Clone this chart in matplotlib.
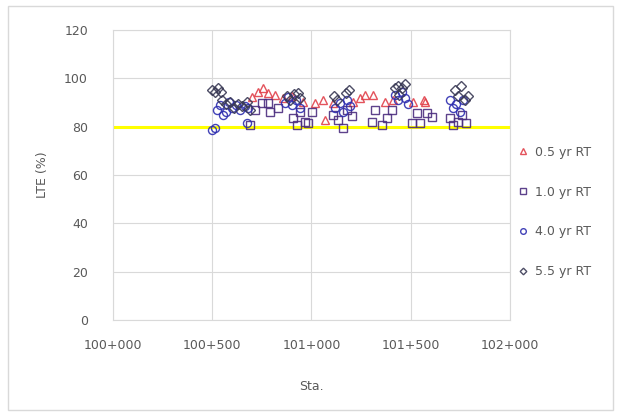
import matplotlib
matplotlib.use("Agg")
import matplotlib.pyplot as plt
from matplotlib.ticker import FuncFormatter, MultipleLocator
from matplotlib.patches import Rectangle

# Load transfer efficiency by station for each retest age
sta_05 = [100700, 100730, 100756, 100781, 100816, 100856, 100902, 100957, 101018, 101058,
          101068, 101108, 101209, 101244, 101270, 101310, 101370, 101410, 101511, 101572, 101567]
lte_05 = [92.3, 94.3, 96.0, 94.0, 93.0, 92.0, 92.7, 90.2, 89.8, 91.0,
          82.7, 89.8, 90.2, 91.8, 93.0, 93.0, 90.2, 91.0, 90.2, 90.2, 91.0]

sta_10 = [100690, 100715, 100751, 100781, 100791, 100831, 100907, 100927, 100942, 100967,
          100982, 101002, 101108, 101134, 101159, 101179, 101204, 101305, 101320, 101355,
          101380, 101405, 101506, 101532, 101547, 101582, 101607, 101698, 101713, 101738,
          101758, 101778]
lte_10 = [80.7, 87.0, 89.8, 89.8, 86.0, 87.7, 83.6, 80.7, 86.0, 82.0,
          81.5, 86.0, 84.8, 82.7, 79.4, 86.9, 84.4, 82.0, 86.9, 80.7,
          83.6, 86.9, 81.5, 85.6, 81.5, 85.6, 84.0, 83.6, 80.7, 82.0,
          84.8, 81.5]

sta_40 = [100499, 100514, 100524, 100539, 100554, 100569, 100584, 100600, 100620, 100640,
          100665, 100680, 100675, 100867, 100882, 100902, 100922, 100942, 101118, 101144,
          101159, 101179, 101194, 101421, 101436, 101456, 101471, 101486, 101698, 101713,
          101728, 101748, 101763]
lte_40 = [78.6, 79.4, 86.9, 89.0, 84.8, 86.0, 90.2, 87.7, 89.0, 86.9,
          88.5, 87.7, 81.5, 89.8, 92.3, 89.0, 91.0, 87.7, 87.7, 89.8,
          86.0, 91.0, 88.5, 93.0, 91.0, 94.3, 91.8, 89.4, 91.0, 87.7,
          89.4, 86.0, 91.0]

sta_55 = [100499, 100514, 100529, 100544, 100549, 100569, 100589, 100610, 100630, 100650,
          100675, 100690, 100877, 100892, 100912, 100932, 100942, 101113, 101128, 101174,
          101189, 101421, 101436, 101456, 101471, 101441, 101723, 101738, 101753, 101773,
          101788]
lte_55 = [95.2, 94.3, 96.0, 94.3, 91.0, 89.4, 90.2, 87.7, 89.4, 88.5,
          90.2, 86.9, 92.7, 91.0, 93.5, 93.9, 91.8, 92.7, 91.0, 93.9,
          95.2, 96.0, 96.8, 96.0, 97.6, 93.0, 95.2, 92.7, 96.8, 91.0,
          92.7]

labels = ["0.5 yr RT", "1.0 yr RT", "4.0 yr RT", "5.5 yr RT"]
x_ticks = [100000, 100500, 101000, 101500, 102000]
threshold = 80

text_color = "#595959"
grid_color = "#d9d9d9"

fig = plt.figure(figsize=(6.21, 4.16), dpi=100)
fig.patch.set_facecolor("white")
fig.patches.append(Rectangle((0.013, 0.015), 0.974, 0.97, transform=fig.transFigure,
                             fill=False, edgecolor="#d9d9d9", linewidth=1.0))

ax = fig.add_axes([0.182, 0.2308, 0.639, 0.697])

series = [
    (sta_05, lte_05, "^", "#e0404a"),
    (sta_10, lte_10, "s", "#4b2d7f"),
    (sta_40, lte_40, "o", "#2e2eb0"),
    (sta_55, lte_55, "D", "#3a3a55"),
]
for (xs, ys, mk, col), lab in zip(series, labels):
    ms = 4.8 if mk == "D" else 5.8
    ax.plot(xs, ys, linestyle="none", marker=mk, markersize=ms, markerfacecolor="none",
            markeredgecolor=col, markeredgewidth=1.0, label=lab, alpha=0.9)

ax.axhline(threshold, color="#ffff00", linewidth=2.2, zorder=1)

ax.set_xlim(100000, 102000)
ax.set_ylim(0, 120)
ax.set_xticks(x_ticks)
ax.xaxis.set_major_formatter(FuncFormatter(lambda v, p: f"{int(v) // 1000}+{int(v) % 1000:03d}"))
ax.yaxis.set_major_locator(MultipleLocator(20))
ax.grid(True, color=grid_color, linewidth=0.8)
ax.set_axisbelow(True)
for s in ax.spines.values():
    s.set_color(grid_color)
    s.set_linewidth(0.8)
ax.tick_params(axis="both", length=0, colors=text_color, labelsize=9)
ax.tick_params(axis="x", pad=14)
ax.tick_params(axis="y", pad=18)

ax.set_xlabel("Sta.", color=text_color, fontsize=9, labelpad=20)
ax.set_ylabel("LTE (%)", color=text_color, fontsize=9, labelpad=11)

leg = ax.legend(loc="upper left", bbox_to_anchor=(0.99, 0.64), frameon=False,
                markerscale=0.7, labelspacing=2.15, handletextpad=0.5, handlelength=0.9,
                fontsize=9)
for t in leg.get_texts():
    t.set_color(text_color)

fig.savefig("out.png", dpi=100)
